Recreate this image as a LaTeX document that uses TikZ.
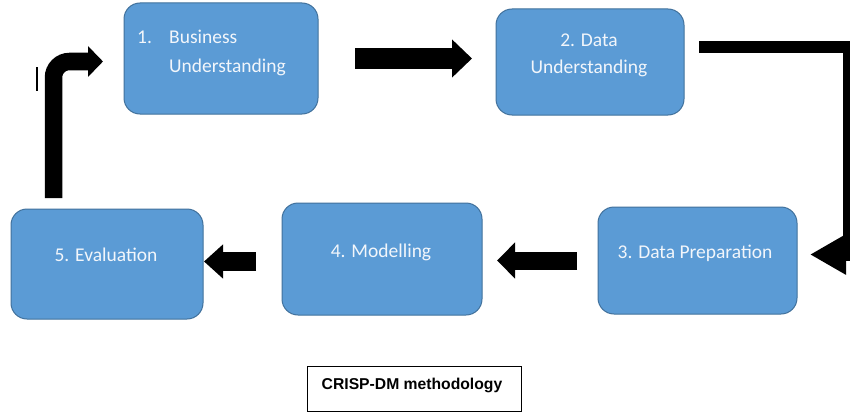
\documentclass[tikz,border=0pt]{standalone}
\usepackage{fontspec}
\setmainfont{Carlito}
\newfontfamily\capfont{Liberation Sans}
\usetikzlibrary{arrows.meta,calc}
\definecolor{boxfill}{HTML}{5B9BD5}
\definecolor{boxline}{HTML}{41719C}
\definecolor{boxtext}{HTML}{F2F6FB}
\tikzset{
  stagebox/.style={draw=boxline, fill=boxfill, line width=1pt, rounded corners=16pt,
    inner sep=0pt, outer sep=0pt, anchor=north west},
  stagetext/.style={text=boxtext, font=\fontsize{19.5}{28}\selectfont, inner sep=0pt, anchor=base},
  blk/.style={draw=black, line cap=butt, line join=miter},
}
\begin{document}
\begin{tikzpicture}[x=1pt,y=-1pt]
\path[use as bounding box, fill=white] (0,0) rectangle (850,412);
\clip (0,0) rectangle (850,412);

% stage boxes
\node[stagebox, minimum width=194pt, minimum height=111pt] (b1) at (124,3) {};
\node[stagebox, minimum width=188pt, minimum height=106pt] (b2) at (496,9) {};
\node[stagebox, minimum width=199pt, minimum height=107pt] (b3) at (598,207) {};
\node[stagebox, minimum width=200pt, minimum height=112pt] (b4) at (282,203) {};
\node[stagebox, minimum width=192pt, minimum height=110pt] (b5) at (11,209) {};

% texts
\node[stagetext, anchor=base west] (t1a) at (137,44) {1.};
\node[stagetext, anchor=base west] (t1b) at (169,44) {Business};
\node[stagetext, anchor=base west] (t1c) at (169,72) {Understanding};
\node[stagetext] (t2a) at (589,46.5) {2. Data};
\node[stagetext] (t2b) at (589,73.5) {Understanding};
\node[stagetext] (t3) at (695,258) {3. Data Preparation};
\node[stagetext] (t4) at (381,257.5) {4. Modelling};
\node[stagetext] (t5) at (106,261) {5. Evaluation};

% straight block arrows
\draw[blk, line width=20pt, -{Triangle[length=20pt,width=37pt]}]
  ([xshift=37pt]b1.east) -- ([xshift=-24pt]b2.west |- b1.east);
\draw[blk, line width=18pt, -{Triangle[length=18pt,width=35pt]}]
  ([xshift=-21pt]b3.west) -- ([xshift=15pt]b4.east |- b3.west);
\draw[blk, line width=19pt, -{Triangle[length=19pt,width=33pt]}]
  ([xshift=-26pt,yshift=-2.5pt]b4.west) -- ([xshift=1pt,yshift=-2.5pt]b5.east |- b4.west);

% elbow 2 -> 3
\coordinate (c23s) at ([xshift=15pt,yshift=15pt]b2.east);
\coordinate (c23k) at ([xshift=52pt,yshift=6pt]b3.east);
\coordinate (c23t) at ([xshift=13pt,yshift=6pt]b3.east);
\draw[blk, line width=12pt, -{Triangle[length=36pt,width=38pt]}]
  (c23s) -| (c23k) -- (c23t);

% elbow 5 -> 1
\coordinate (c51s) at ([xshift=-53.5pt,yshift=11pt]b5.north);
\coordinate (c51t) at ([xshift=-21pt,yshift=-3pt]b1.west);
\draw[blk, line width=17.5pt, rounded corners=16pt, -{Triangle[length=15pt,width=30pt]}]
  (c51s) |- (c51t);

% cursor mark
\draw[line width=1.3pt] (37,67) -- (37,91);

% caption
\node[draw=black, line width=0.8pt, minimum width=214pt, minimum height=45pt,
  inner sep=0pt, outer sep=0pt, anchor=north west] (cap) at (307,366) {};
\node[font=\capfont\bfseries\fontsize{15.7}{18}\selectfont, inner sep=0pt, anchor=base]
  (capt) at (412,389) {CRISP-DM methodology};
\end{tikzpicture}
\end{document}
